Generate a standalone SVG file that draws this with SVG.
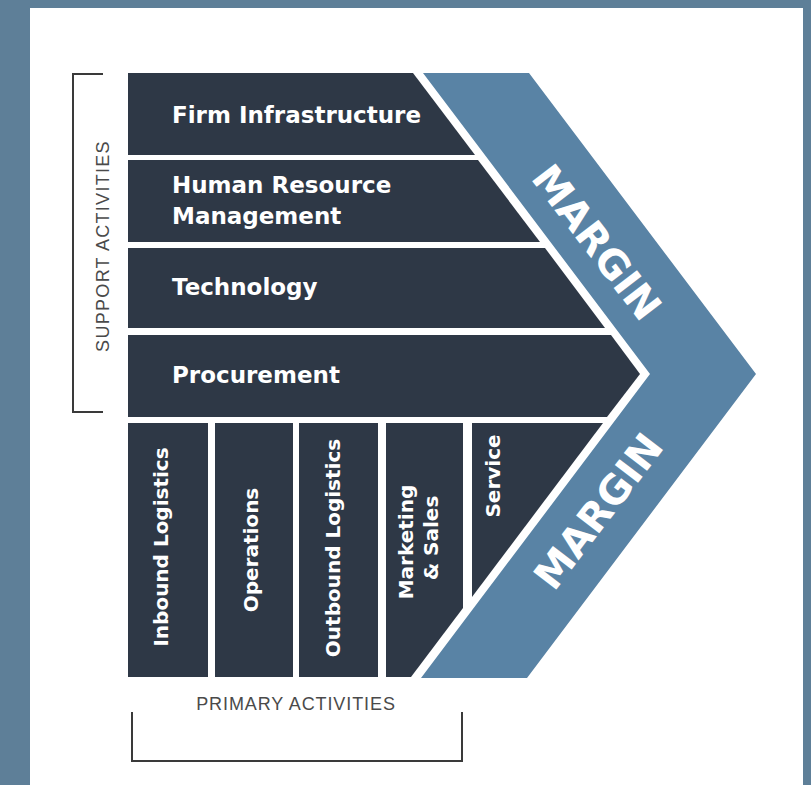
<svg xmlns="http://www.w3.org/2000/svg" width="811" height="785" viewBox="0 0 811 785">
  <style>
    .frame { fill: #5e7f98; }
    .panel { fill: #ffffff; }
    .block { fill: #2e3846; }
    .margin { fill: #5983a5; }
    .label { fill: #ffffff; font-family: "DejaVu Sans", "Liberation Sans", sans-serif; font-weight: bold; }
    .band { font-size: 23px; }
    .col { font-size: 20px; text-anchor: middle; }
    .big { font-size: 40px; text-anchor: middle; }
    .caption { fill: #4a4a4a; font-family: "Liberation Sans", Arial, sans-serif; font-size: 18px; text-anchor: middle; }
    .bracket { fill: none; stroke: #3a3a3a; stroke-width: 2; }
  </style>

  <!-- frame and page -->
  <rect class="frame" x="0" y="0" width="811" height="785"/>
  <rect class="panel" x="30" y="8" width="773" height="777"/>

  <!-- margin chevron -->
  <g id="margin">
    <polygon class="margin" points="423,73 529,73 756,374 527,678 421,678 650,374"/>
    <text class="label big" transform="translate(597,242) rotate(52.6)" y="14.5">MARGIN</text>
    <text class="label big" transform="translate(598,511) rotate(-52.6)" y="14.5">MARGIN</text>
  </g>

  <!-- support activities -->
  <g id="firm-infrastructure">
    <polygon class="block" points="128,73 413,73 475,155 128,155"/>
    <text class="label band" x="172" y="123">Firm Infrastructure</text>
  </g>
  <g id="human-resource-management">
    <polygon class="block" points="128,160 478,160 540,242 128,242"/>
    <text class="label band" x="172" y="193">Human Resource</text>
    <text class="label band" x="172" y="224">Management</text>
  </g>
  <g id="technology">
    <polygon class="block" points="128,248 545,248 605,328 128,328"/>
    <text class="label band" x="172" y="295">Technology</text>
  </g>
  <g id="procurement">
    <polygon class="block" points="128,335 611,335 640,374 607,417 128,417"/>
    <text class="label band" x="172" y="383">Procurement</text>
  </g>

  <!-- primary activities -->
  <g id="inbound-logistics">
    <rect class="block" x="128" y="423" width="80" height="254"/>
    <text class="label col" transform="translate(168,547) rotate(-90)">Inbound Logistics</text>
  </g>
  <g id="operations">
    <rect class="block" x="215" y="423" width="78" height="254"/>
    <text class="label col" transform="translate(258,550) rotate(-90)">Operations</text>
  </g>
  <g id="outbound-logistics">
    <rect class="block" x="299" y="423" width="79" height="254"/>
    <text class="label col" transform="translate(340,548) rotate(-90)">Outbound Logistics</text>
  </g>
  <g id="marketing-sales">
    <polygon class="block" points="386,423 463,423 463,608 411,677 386,677"/>
    <text class="label col" transform="translate(413,542) rotate(-90)">Marketing</text>
    <text class="label col" transform="translate(438,538) rotate(-90)">&amp; Sales</text>
  </g>
  <g id="service">
    <polygon class="block" points="472,423 603,423 472,597"/>
    <text class="label col" transform="translate(500,476) rotate(-90)">Service</text>
  </g>

  <!-- group brackets and captions -->
  <g id="brackets">
    <polyline class="bracket" points="103,74 73,74 73,412 103,412"/>
    <polyline class="bracket" points="132,712 132,761 462,761 462,712"/>
  </g>
  <g id="support-caption">
    <text class="caption" transform="translate(109,246) rotate(-90)" letter-spacing="1.3">SUPPORT ACTIVITIES</text>
  </g>
  <g id="primary-caption">
    <text class="caption" x="296" y="710" font-size="19" letter-spacing="0.9">PRIMARY ACTIVITIES</text>
  </g>
</svg>
